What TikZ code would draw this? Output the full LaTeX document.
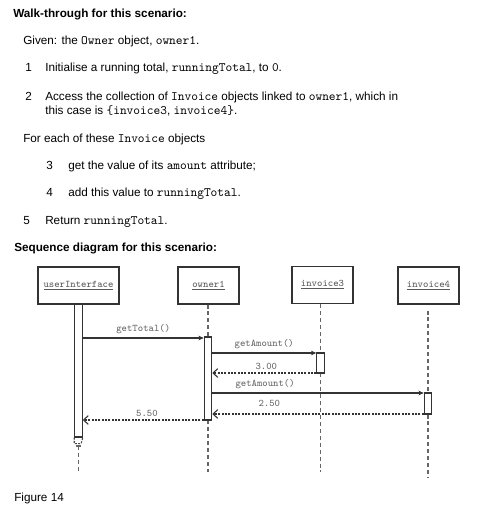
\documentclass[tikz,border=0pt]{standalone}
\usepackage{fontspec}
\setmainfont{Liberation Sans}
\usetikzlibrary{arrows.meta,positioning}

\newcommand{\code}[1]{{\fontsize{9.6}{10.5}\selectfont\ttfamily #1}}

\tikzset{
    txt/.style={anchor=base west, inner sep=0pt, font=\fontsize{8.8}{10.5}\selectfont},
    heading/.style={txt, font=\fontsize{8.8}{10.5}\selectfont\bfseries},
    objbox/.style={draw=black!80, line width=0.8pt, minimum width=45.75pt, minimum height=27.75pt, inner sep=1pt, font=\ttfamily\fontsize{7.6}{9}\selectfont, text=black!65},
    actbar/.style={draw=black!80, line width=0.8pt, fill=white, minimum width=5.6pt, inner sep=0pt},
    lifeline/.style={draw=black!60, line width=1pt, dash pattern=on 3pt off 2.2pt},
    call/.style={draw=black!80, line width=0.8pt, -{Stealth[length=4pt,width=3.5pt]}},
    reply/.style={draw=black!80, line width=0.8pt, dash pattern=on 1.5pt off 1pt, -{Straight Barb[length=3.5pt,width=6.5pt]}},
    msg/.style={font=\ttfamily\fontsize{7.6}{9}\selectfont, text=black!60, inner sep=1pt}
}

\begin{document}
\begin{tikzpicture}[x=0.75pt, y=-0.75pt]
    % Page size
    \useasboundingbox[fill=white] (0,0) rectangle (478,510);

    % Walk-through text
    \node[heading] (title) at (13,18) {Walk-through for this scenario:};
    \node[txt] (given) at (23,45) {Given: the \code{Owner} object, \code{owner1}.};
    \node[txt] (n1) at (25,72) {1};
    \node[txt] (t1) at (45,72) {Initialise a running total, \code{runningTotal}, to \code{0}.};
    \node[txt] (n2) at (25,100) {2};
    \node[txt] (t2a) at (45,100) {Access the collection of \code{Invoice} objects linked to \code{owner1}, which in};
    \node[txt] (t2b) at (45,114) {this case is \code{\{invoice3}, \code{invoice4\}}.};
    \node[txt] (foreach) at (23,142) {For each of these \code{Invoice} objects};
    \node[txt] (n3) at (46,169) {3};
    \node[txt] (t3) at (68,169) {get the value of its \code{amount} attribute;};
    \node[txt] (n4) at (46,196) {4};
    \node[txt] (t4) at (68,196) {add this value to \code{runningTotal}.};
    \node[txt] (n5) at (23,224) {5};
    \node[txt] (t5) at (45,224) {Return \code{runningTotal}.};
    \node[heading] (seqtitle) at (14,251) {Sequence diagram for this scenario:};

    % Objects
    \node[objbox, minimum width=60.75pt] (ui) at (78.5,285.5) {\underline{userInterface}};
    \node[objbox] (own) at (208.5,285.5) {\underline{owner1}};
    \node[objbox] (inv3) at (322.5,285) {\underline{invoice3}};
    \node[objbox] (inv4) at (428.5,285.5) {\underline{invoice4}};

    % Lifelines
    \draw[lifeline] (own.south -| 208,0) -- (208,337);
    \draw[lifeline] (208,420) -- (208,472);
    \draw[lifeline] (inv3.south -| 320.5,0) -- (320.5,472);
    \draw[lifeline] (inv4.south -| 428,0) ++(0,6) -- (428,477);
    \draw[lifeline] (78.5,446) -- (78.5,472);
    \draw[draw=black!60, line width=0.8pt] (76,446) -- (81,446);

    % Activation bars
    \node[actbar, minimum height=99.75pt] (uibar) at (78.5,370.5) {};
    \node[actbar, minimum height=62.25pt] (ownbar) at (208,378.5) {};
    \node[actbar, minimum height=15pt] (inv3bar) at (320.5,363) {};
    \node[actbar, minimum height=15.75pt] (inv4bar) at (428,403.5) {};
    \draw[draw=black!70, line width=0.8pt, dash pattern=on 1.5pt off 1pt] (uibar.south west) -- ++(0,6) -- ++(7,0) -- (uibar.south east);

    % Messages
    \draw[call] (uibar.east |- 0,338) -- (ownbar.west |- 0,338) node[msg, midway, above=2pt] {getTotal()};
    \draw[call] (ownbar.east |- 0,353) -- (inv3bar.west |- 0,353) node[msg, midway, above=1.5pt] {getAmount()};
    \draw[reply] (inv3bar.west |- 0,373) -- (ownbar.east |- 0,373) node[msg, pos=0.48, above=1pt] {3.00};
    \draw[call] (ownbar.east |- 0,393) -- (inv4bar.west |- 0,393) node[msg, pos=0.25, above=1.5pt] {getAmount()};
    \draw[reply] (inv4bar.west |- 0,414) -- (ownbar.east |- 0,414) node[msg, pos=0.73, above=4pt] {2.50};
    \draw[reply] (ownbar.west |- 0,420) -- (uibar.east |- 0,420) node[msg, pos=0.47, above=1pt] {5.50};

    % Caption
    \node[txt] (caption) at (14,501) {Figure 14};
\end{tikzpicture}
\end{document}
